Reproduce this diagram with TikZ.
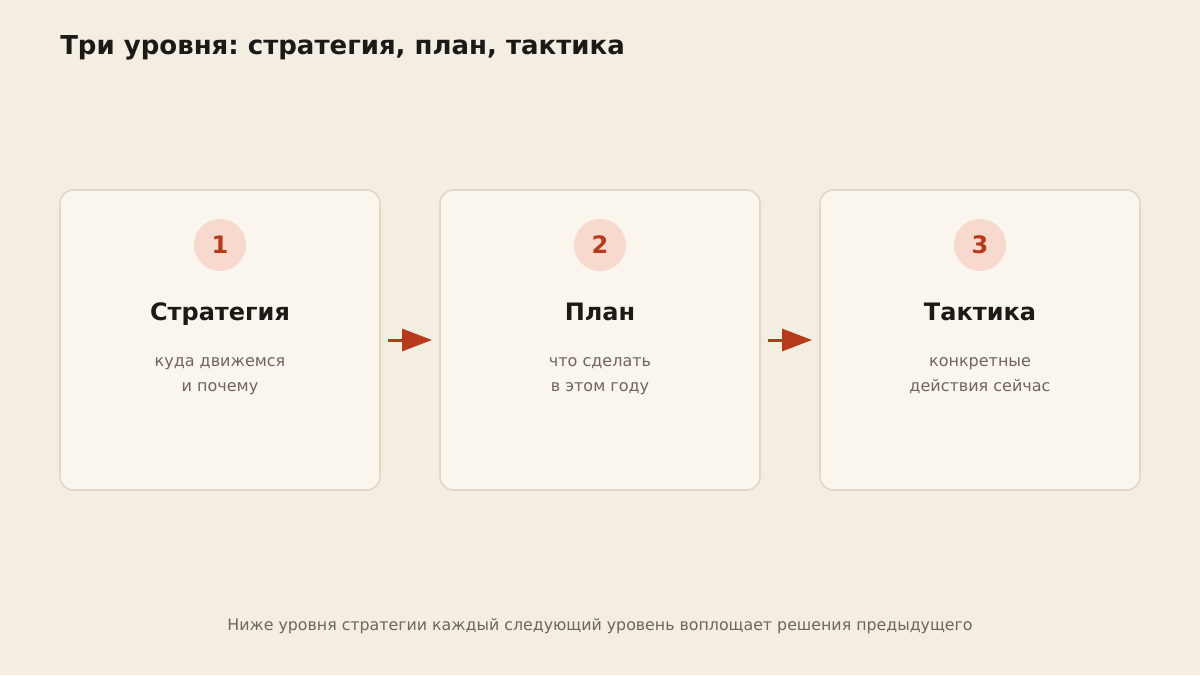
\documentclass[tikz,border=0pt]{standalone}
\usepackage{fontspec}
\setmainfont{DejaVu Sans}
\frenchspacing
\usetikzlibrary{positioning}
\usetikzlibrary{arrows.meta}
\definecolor{bg}{HTML}{F3EDE2}
\definecolor{cardfill}{HTML}{FAF6EE}
\definecolor{cardline}{HTML}{E2D7C6}
\definecolor{badge}{HTML}{F7D9CD}
\definecolor{accent}{HTML}{B83A1B}
\definecolor{ink}{HTML}{1C1A17}
\definecolor{muted}{HTML}{6E655C}
\tikzset{>={Triangle[length=22.5pt,width=16.5pt]}}
\tikzset{
  card/.style={draw=cardline, line width=1.2pt, fill=cardfill, rounded corners=10pt,
    minimum width=240pt, minimum height=225pt, inner sep=0pt, outer sep=0pt},
  num/.style={circle, fill=badge, minimum size=39pt, inner sep=0pt,
    text=accent, font=\bfseries\fontsize{18}{20}\selectfont},
  head/.style={anchor=base, text=ink, font=\bfseries\fontsize{18}{20}\selectfont},
  desc/.style={text=muted, align=center, font=\fontsize{12}{18.75}\selectfont},
  flow/.style={draw=accent, line width=2.25pt, ->, shorten <=6pt, shorten >=6pt}
}

\begin{document}
\begin{tikzpicture}[x=0.75pt, y=-0.75pt]
    \fill [bg] (0,0) rectangle (1200,675);
    \node (title) [anchor=west, inner sep=0pt, text=ink, font=\bfseries\fontsize{19.5}{22}\selectfont] at (60,48) {Три уровня: стратегия, план, тактика};

    \node (strat) [card] at (220,340) {};
    \node (plan) [card, right=45pt of strat] {};
    \node (tact) [card, right=45pt of plan] {};

    \node (n1) [num] at ([yshift=-41.25pt]strat.north) {1};
    \node (h1) [head] at ([yshift=-97.5pt]strat.north) {Стратегия};
    \node (d1) [desc] at ([yshift=-139.5pt]strat.north) {куда движемся\\и почему};

    \node (n2) [num] at ([yshift=-41.25pt]plan.north) {2};
    \node (h2) [head] at ([yshift=-97.5pt]plan.north) {План};
    \node (d2) [desc] at ([yshift=-139.5pt]plan.north) {что сделать\\в этом году};

    \node (n3) [num] at ([yshift=-41.25pt]tact.north) {3};
    \node (h3) [head] at ([yshift=-97.5pt]tact.north) {Тактика};
    \node (d3) [desc] at ([yshift=-139.5pt]tact.north) {конкретные\\действия сейчас};

    \path [flow] (strat) -- (plan);
    \path [flow] (plan) -- (tact);

    \node (foot) [text=muted, font=\fontsize{11.85}{14}\selectfont] at (600,626) {Ниже уровня стратегии каждый следующий уровень воплощает решения предыдущего};
\end{tikzpicture}
\end{document}
